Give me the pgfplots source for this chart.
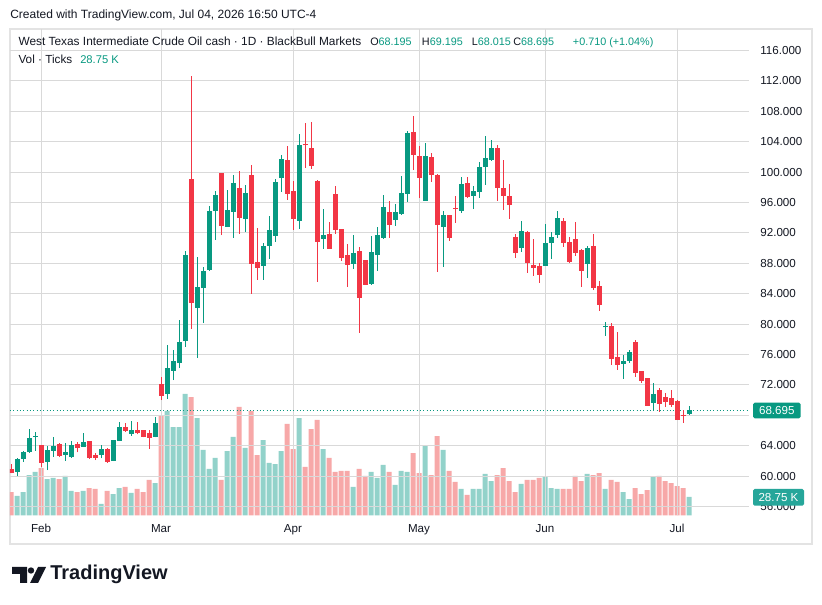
\documentclass[border=0pt]{standalone}
\usepackage{fontspec}
\setmainfont{Liberation Sans}
\usepackage{pgfplots}
\usepackage{pgfplotstable}
\pgfplotsset{compat=1.18}
\definecolor{upc}{HTML}{089981}
\definecolor{dnc}{HTML}{F23645}
\definecolor{upv}{HTML}{92D2CA}
\definecolor{dnv}{HTML}{F7A8A8}
\definecolor{gridc}{HTML}{D9D9D9}
\definecolor{txt}{HTML}{131722}
\definecolor{tagv}{HTML}{26A69A}
\definecolor{border}{HTML}{E3E3E3}

% bullish candles: index, open, high, low, close, volume (K)
\pgfplotstableread{
i O H L C V
1 60.58 62.38 60.01 62.25 30.3
2 62.29 63.35 61.90 63.17 36.5
3 63.17 66.15 63.08 65.01 62.9
4 65.19 65.80 63.35 65.28 67.6
6 61.90 63.96 60.80 63.43 56.7
7 63.35 65.15 62.56 63.96 58.3
9 62.82 64.40 62.03 63.17 61.4
10 62.51 64.62 62.43 64.09 38.1
12 63.87 65.72 63.87 64.49 38.1
15 62.78 64.09 62.34 63.57 17.9
17 61.99 64.75 61.99 64.75 33.4
18 64.62 67.16 64.62 66.46 42.7
20 65.58 67.21 65.32 66.07 35.0
24 65.19 67.82 65.10 67.03 50.5
26 70.85 77.25 70.19 74.22 162.4
27 73.87 76.59 72.64 75.14 137.5
28 74.88 80.54 74.22 77.64 137.5
29 77.78 89.62 77.03 89.09 188.8
31 82.12 88.83 75.58 84.88 151.5
32 84.75 87.51 80.14 86.99 101.8
33 87.12 95.54 86.99 94.88 72.3
34 94.88 97.51 91.07 96.99 89.4
36 92.78 97.64 92.78 95.01 100.2
37 94.77 99.62 91.35 98.57 122.0
39 93.87 98.30 92.16 97.25 104.9
42 87.69 90.72 85.85 90.32 117.3
43 90.32 94.22 88.61 92.38 81.6
44 91.64 99.09 90.85 98.70 80.0
45 99.27 102.25 97.43 101.72 100.2
48 93.61 105.01 92.56 103.57 151.5
52 91.24 95.14 89.93 91.72 103.3
57 87.95 91.72 87.29 89.31 44.3
60 85.32 91.59 85.15 89.49 67.6
61 89.14 92.78 87.03 91.72 58.3
62 91.37 96.99 91.24 95.41 78.5
64 93.74 95.80 92.95 94.75 47.4
65 94.53 99.49 94.40 97.25 69.2
66 97.16 105.41 96.11 105.14 67.6
69 96.24 103.83 96.24 102.12 108.0
72 92.82 94.88 87.56 94.36 101.8
75 94.92 99.36 94.66 98.43 41.2
77 96.86 98.17 95.14 97.51 41.2
78 97.42 101.33 96.64 100.67 41.2
79 100.71 104.75 98.35 101.86 64.5
80 101.59 104.22 101.50 103.17 53.6
85 90.06 93.57 89.53 92.25 49.0
89 87.69 93.17 87.69 90.67 59.8
90 90.71 92.12 88.61 91.46 42.7
91 91.77 94.88 91.37 93.96 41.2
96 87.95 90.28 86.11 90.01 64.5
99 79.57 80.28 78.48 79.66 41.2
102 74.79 75.98 72.82 75.19 36.5
103 75.19 76.64 74.93 76.33 25.6
107 69.66 72.29 68.74 70.80 59.8
113 68.195 69.195 68.015 68.695 28.75
}\uptab

% bearish candles
\pgfplotstableread{
i O H L C V
0 60.93 61.59 60.37 60.41 36.5
5 64.09 64.09 61.15 61.77 73.8
8 64.22 64.40 62.51 62.69 56.7
11 64.18 64.49 63.13 63.70 36.5
13 64.62 64.62 62.29 62.38 42.7
14 62.78 63.04 62.12 62.43 41.2
16 63.57 63.65 61.77 61.90 38.1
19 66.46 67.03 65.85 65.98 44.3
21 66.07 67.08 65.50 65.63 41.2
22 66.07 66.10 65.10 65.19 36.5
23 65.67 66.07 63.61 65.06 55.2
25 72.12 73.04 70.01 70.58 154.6
30 99.09 112.64 79.40 82.78 184.1
35 99.88 99.88 91.72 92.91 55.2
38 97.91 100.14 91.88 93.98 168.6
40 99.62 100.93 84.00 87.95 162.4
41 88.17 92.64 85.85 87.43 94.0
46 101.59 103.44 96.37 97.16 142.2
47 97.51 98.83 92.43 93.87 103.3
49 103.61 106.46 100.58 103.52 75.4
50 103.17 106.59 100.45 100.85 134.4
51 98.83 98.96 85.58 90.85 148.4
53 91.85 93.43 89.93 89.93 89.4
54 97.12 98.17 91.90 92.43 67.6
55 92.51 92.51 88.35 88.74 69.2
56 89.09 90.54 84.93 87.82 69.2
58 89.62 90.14 78.87 83.48 72.3
59 88.43 88.43 85.19 85.19 61.4
63 94.75 96.20 91.37 93.08 67.6
67 105.28 107.38 100.32 102.29 97.1
68 102.12 103.43 96.64 99.27 66.0
70 101.99 102.51 98.74 99.66 62.9
71 99.62 99.75 86.90 93.08 123.5
73 94.36 94.36 90.98 91.37 69.2
74 95.23 96.85 93.35 95.19 52.1
76 98.57 99.36 96.59 96.72 31.9
81 103.17 103.57 96.24 97.95 62.9
82 97.91 101.59 95.05 96.90 73.8
83 96.86 98.43 93.87 95.71 53.6
84 91.46 91.86 88.74 89.40 36.5
86 92.12 92.25 86.77 88.08 55.2
87 87.78 91.20 86.37 87.43 55.2
88 87.64 88.04 85.45 86.50 58.3
92 93.57 93.96 90.19 90.71 41.2
93 90.80 91.46 88.08 88.21 41.2
94 91.20 93.43 89.00 89.40 61.4
95 89.75 89.88 84.93 87.03 53.6
97 90.28 91.86 84.53 84.79 62.9
98 85.01 85.67 81.77 82.56 66.0
100 79.75 80.14 74.66 75.45 55.2
101 75.71 78.96 74.00 74.66 52.1
104 77.64 77.95 73.08 73.61 42.7
105 73.79 73.87 72.29 72.56 33.4
106 72.91 72.91 69.27 69.27 39.6
108 71.33 71.59 68.48 69.53 61.4
109 70.41 70.98 69.14 69.79 53.6
110 70.28 71.33 69.14 69.40 50.5
111 69.88 70.01 67.43 67.43 45.8
112 68.04 68.70 67.03 67.95 42.7
}\dntab

\pgfplotsset{
  panel/.style={at={(7.5pt,66.375pt)}, anchor=south west, scale only axis,
    width=554.25pt, height=364.5pt, xmin=-0.17, xmax=123},
  candle/.style={only marks, mark=*, mark size=0pt,
    mark options={draw opacity=0, fill opacity=0}},
}

\begin{document}
\begin{tikzpicture}
\begin{scope}[x=0.75pt,y=0.75pt]
\fill[white] (0,0) rectangle (822,604);
\draw[border, line width=1.2pt] (10,575) rectangle (812,60);
\end{scope}

% volume
\begin{axis}[panel, ymin=0, ymax=755.2, hide axis]
\addplot[ybar, bar width=3.75pt, bar shift=0pt, fill=upv, draw=none] table[x=i,y=V]{\uptab};
\addplot[ybar, bar width=3.75pt, bar shift=0pt, fill=dnv, draw=none] table[x=i,y=V]{\dntab};
\end{axis}

% price
\begin{axis}[panel, ymin=54.82, ymax=118.76,
  axis line style={draw=none}, tick style={draw=none},
  ytick={56,60,64,72,76,80,84,88,92,96,100,104,108,112,116}, yticklabel pos=right,
  extra y ticks={68}, extra y tick labels={},
  /pgf/number format/assume math mode=true,
  yticklabel style={/pgf/number format/fixed, /pgf/number format/fixed zerofill,
     /pgf/number format/precision=3, anchor=west, xshift=5pt,
     font=\fontsize{8.7}{10}\selectfont, text=txt},
  xtick={5,25,47,68,89,111}, xticklabels={Feb,Mar,Apr,May,Jun,Jul},
  xticklabel style={font=\fontsize{8.7}{10}\selectfont, text=txt, yshift=-3pt},
  grid=major, major grid style={gridc, line width=0.75pt},
  extra tick style={grid=major, major grid style={gridc, line width=0.75pt}}]
\addplot[upc, line width=0.75pt, dash pattern=on 0.8pt off 1.7pt] coordinates {(-0.17,68.695) (123,68.695)};
% wicks
\addplot[candle,
  error bars/.cd, y dir=plus, y explicit, error mark=none,
  error bar style={line width=0.75pt, draw=upc}]
  table[x=i, y=L, y error expr={\thisrow{H}-\thisrow{L}}]{\uptab};
\addplot[candle,
  error bars/.cd, y dir=plus, y explicit, error mark=none,
  error bar style={line width=0.75pt, draw=dnc}]
  table[x=i, y=L, y error expr={\thisrow{H}-\thisrow{L}}]{\dntab};
% bodies
\addplot[candle,
  error bars/.cd, y dir=plus, y explicit, error mark=none,
  error bar style={line width=3.75pt, draw=upc}]
  table[x=i, y=O, y error expr={max(\thisrow{C}-\thisrow{O},0.13)}]{\uptab};
\addplot[candle,
  error bars/.cd, y dir=plus, y explicit, error mark=none,
  error bar style={line width=3.75pt, draw=dnc}]
  table[x=i, y=C, y error expr={max(\thisrow{O}-\thisrow{C},0.13)}]{\dntab};
\end{axis}

\begin{scope}[x=0.75pt,y=0.75pt]
% price and volume tags
\fill[upc, rounded corners=1.2pt] (753,185.7) rectangle (800.7,201.3);
\node[text=white, font=\fontsize{8.7}{10}\selectfont, inner sep=0] at (776.8,193.5) {68.695};
\fill[tagv, rounded corners=1.2pt] (753,98.3) rectangle (804,115);
\node[text=white, font=\fontsize{8.7}{10}\selectfont, inner sep=0] at (778.5,106.7) {28.75 K};

% header
\begin{scope}[every node/.style={anchor=base west, inner sep=0, text=txt}]
\node[font=\fontsize{9}{11}\selectfont] at (10,585) {Created with TradingView.com, Jul 04, 2026 16:50 UTC-4};
\node[font=\fontsize{8.9}{11}\selectfont] at (18.3,558.3) {West Texas Intermediate Crude Oil cash · 1D · BlackBull Markets};
\node[font=\fontsize{8.1}{11}\selectfont] at (370,558.3) {O\textcolor{upc}{68.195}};
\node[font=\fontsize{8.1}{11}\selectfont] at (421.7,558.3) {H\textcolor{upc}{69.195}};
\node[font=\fontsize{8.1}{11}\selectfont] at (471.7,558.3) {L\textcolor{upc}{68.015}};
\node[font=\fontsize{8.1}{11}\selectfont] at (513,558.3) {C\textcolor{upc}{68.695}};
\node[font=\fontsize{8.1}{11}\selectfont, text=upc] at (572.7,558.3) {+0.710 (+1.04\%)};
\node[font=\fontsize{8.8}{11}\selectfont] at (18.3,540.7) {Vol · Ticks};
\node[font=\fontsize{8.4}{11}\selectfont, text=upc] at (80,540.7) {28.75 K};
\end{scope}

% footer logo
\fill[txt] (12,37) -- (27,37) -- (27,21) -- (20,21) -- (20,30) -- (12,30) -- cycle;
\fill[txt] (31,33.5) circle (3.2);
\fill[txt] (38,37) -- (46,37) -- (38,21) -- (30,21) -- cycle;
\node[anchor=base west, inner sep=0, font=\fontsize{15}{18}\selectfont\bfseries, text=txt] at (50,24) {TradingView};
\end{scope}
\end{tikzpicture}
\end{document}
